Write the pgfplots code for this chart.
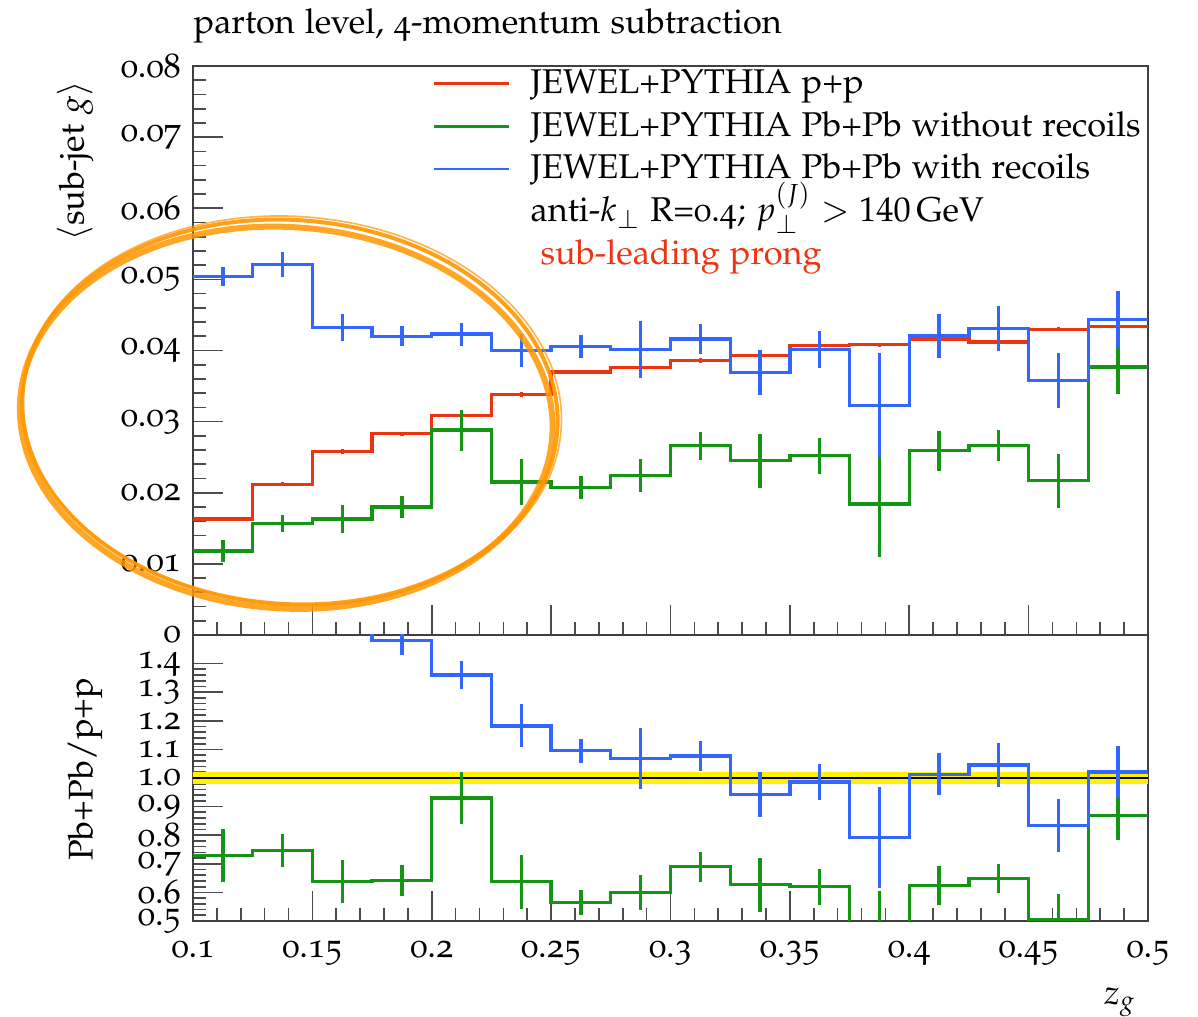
\documentclass[border=0pt]{standalone}
\usepackage[T1]{fontenc}
\usepackage[osf]{mathpazo}
\usepackage{pgfplots}
\usepackage{pgfplotstable}
\pgfplotsset{compat=1.18}
\definecolor{rred}{RGB}{238,51,17}
\definecolor{rgreen}{RGB}{20,150,20}
\definecolor{rblue}{RGB}{51,102,255}
\definecolor{orng}{RGB}{255,150,0}

\pgfplotstableread{
xlo y err
0.100 0.0163 0.0003
0.125 0.0212 0.0003
0.150 0.0258 0.0003
0.175 0.0283 0.0003
0.200 0.0309 0.0003
0.225 0.0338 0.0003
0.250 0.0370 0.0003
0.275 0.0376 0.0003
0.300 0.0386 0.0003
0.325 0.0393 0.0003
0.350 0.0407 0.0003
0.375 0.0408 0.0003
0.400 0.0416 0.0003
0.425 0.0412 0.0003
0.450 0.0430 0.0003
0.475 0.0434 0.0003
0.500 0.0434 0
}\redtop
\pgfplotstableread{
xlo y err
0.100 0.0118 0.0015
0.125 0.0157 0.0012
0.150 0.0163 0.0020
0.175 0.0180 0.0015
0.200 0.0288 0.0029
0.225 0.0215 0.0032
0.250 0.0207 0.0016
0.275 0.0224 0.0023
0.300 0.0266 0.0020
0.325 0.0245 0.0038
0.350 0.0252 0.0025
0.375 0.0184 0.0074
0.400 0.0259 0.0028
0.425 0.0266 0.0022
0.450 0.0217 0.0038
0.475 0.0377 0.0038
0.500 0.0377 0
}\greentop
\pgfplotstableread{
xlo y err
0.100 0.0504 0.0014
0.125 0.0521 0.0018
0.150 0.0432 0.0019
0.175 0.0420 0.0014
0.200 0.0423 0.0016
0.225 0.0400 0.0023
0.250 0.0406 0.0016
0.275 0.0401 0.0040
0.300 0.0416 0.0021
0.325 0.0369 0.0032
0.350 0.0401 0.0026
0.375 0.0323 0.0073
0.400 0.0421 0.0031
0.425 0.0431 0.0031
0.450 0.0358 0.0039
0.475 0.0444 0.0039
0.500 0.0444 0
}\bluetop
\pgfplotstableread{
xlo y err
0.100 3.090 0.090
0.125 2.460 0.090
0.150 1.670 0.080
0.175 1.480 0.050
0.200 1.360 0.048
0.225 1.182 0.075
0.250 1.095 0.041
0.275 1.069 0.107
0.300 1.077 0.053
0.325 0.942 0.080
0.350 0.986 0.062
0.375 0.791 0.177
0.400 1.013 0.073
0.425 1.046 0.076
0.450 0.834 0.092
0.475 1.021 0.090
0.500 1.021 0
}\blueratio
\pgfplotstableread{
xlo y err
0.100 0.730 0.093
0.125 0.746 0.058
0.150 0.637 0.075
0.175 0.641 0.055
0.200 0.930 0.090
0.225 0.637 0.095
0.250 0.565 0.043
0.275 0.600 0.061
0.300 0.690 0.052
0.325 0.627 0.094
0.350 0.620 0.063
0.375 0.450 0.155
0.400 0.624 0.069
0.425 0.649 0.052
0.450 0.505 0.089
0.475 0.870 0.086
0.500 0.870 0
}\greenratio

\pgfplotsset{
  rivet/.style={
    scale only axis, width=286.5pt,
    xmin=0.1, xmax=0.5,
    tick pos=left, tick align=inside,
    major tick length=9pt, minor tick length=4pt,
    axis line style={black!75, line width=0.5pt},
    every tick/.style={black!70, line width=0.5pt},
    xtick={0.1,0.15,0.2,0.25,0.3,0.35,0.4,0.45,0.5},
    minor x tick num=4, minor y tick num=4,
    scaled ticks=false,
    /pgf/number format/assume math mode=true,
  },
  stepline/.style={const plot mark left, line width=1pt},
  ebar/.style={forget plot, draw=none, mark=none,
    error bars/y dir=both, error bars/y explicit, error bars/error mark=none,
    error bars/error bar style={draw=#1, line width=1pt}},
}

\begin{document}
\fontsize{10.3pt}{12.8pt}\selectfont
\begin{tikzpicture}
\path[use as bounding box] (-57.9pt,-28.8pt) rectangle (301.5pt,276.3pt);

\begin{axis}[rivet,
  at={(0pt,85.8pt)}, anchor=south west, height=170.7pt,
  ymin=0, ymax=0.08,
  ytick={0,0.01,0.02,0.03,0.04,0.05,0.06,0.07,0.08},
  xticklabels={},
  yticklabel style={/pgf/number format/fixed, /pgf/number format/precision=2},
  ylabel={$\langle$sub-jet $g\rangle$},
  ylabel style={at={(axis description cs:-0.1236,0.995)}, anchor=east},
  title={parton level, 4-momentum subtraction},
  title style={at={(axis description cs:0,1)}, anchor=base west, yshift=3.9pt, inner xsep=0pt},
  legend cell align=left,
  legend style={draw=none, fill=none, at={(axis description cs:0.2506,1)}, anchor=north west,
    yshift=1.3pt, inner sep=0pt, row sep=0pt, column sep=6pt,
    nodes={inner ysep=0pt, inner xsep=0pt, text height=9.3pt, text depth=3.5pt}},
  legend image code/.code={\draw[#1, line width=0.8pt] (0pt,0pt) -- (22.5pt,0pt);},
]
\addplot[stepline, rred] table[x=xlo, y=y] {\redtop};
\addlegendentry{JEWEL+PYTHIA p+p}
\addplot[stepline, rgreen] table[x=xlo, y=y] {\greentop};
\addlegendentry{JEWEL+PYTHIA Pb+Pb without recoils}
\addplot[stepline, rblue] table[x=xlo, y=y] {\bluetop};
\addlegendentry{JEWEL+PYTHIA Pb+Pb with recoils}
\addlegendimage{empty legend}
\addlegendentry{anti-$k_\perp$ R=0.4; $p_\perp^{(J)} > 140\,\mathrm{GeV}$}
\addlegendimage{empty legend}
\addlegendentry{\hspace*{3pt}\textcolor{rred}{sub-leading prong}}
\addplot[ebar=rred] table[x expr=\thisrow{xlo}+0.0125, y=y, y error=err] {\redtop};
\addplot[ebar=rgreen] table[x expr=\thisrow{xlo}+0.0125, y=y, y error=err] {\greentop};
\addplot[ebar=rblue] table[x expr=\thisrow{xlo}+0.0125, y=y, y error=err] {\bluetop};
\end{axis}

\begin{axis}[rivet,
  at={(0pt,0pt)}, anchor=south west, height=85.8pt,
  ymin=0.5, ymax=1.5,
  ytick={0.5,0.6,0.7,0.8,0.9,1.0,1.1,1.2,1.3,1.4},
  yticklabel style={/pgf/number format/fixed, /pgf/number format/fixed zerofill, /pgf/number format/precision=1},
  xticklabel style={/pgf/number format/fixed, /pgf/number format/precision=2, yshift=-2.4pt},
  ylabel={Pb+Pb/p+p},
  ylabel style={at={(axis description cs:-0.113,0.53)}, anchor=center},
  xlabel={$z_g$},
  xlabel style={at={(axis description cs:1,-0.19)}, anchor=north east},
]
\addplot[fill=yellow, draw=none, forget plot] coordinates {(0.1,0.979) (0.5,0.979) (0.5,1.021) (0.1,1.021) (0.1,0.979)};
\addplot[black, line width=0.6pt, forget plot] coordinates {(0.1,1) (0.5,1)};
\addplot[stepline, rgreen] table[x=xlo, y=y] {\greenratio};
\addplot[stepline, rblue] table[x=xlo, y=y] {\blueratio};
\addplot[ebar=rgreen] table[x expr=\thisrow{xlo}+0.0125, y=y, y error=err] {\greenratio};
\addplot[ebar=rblue] table[x expr=\thisrow{xlo}+0.0125, y=y, y error=err] {\blueratio};
\end{axis}

\begin{scope}[shift={(29.1pt,152.7pt)}, rotate=-4]
\draw[orng, line width=1.2pt, opacity=0.9] (0,0) ellipse [x radius=80.4pt, y radius=57.6pt];
\draw[orng, line width=1.8pt, opacity=0.85] (-1pt,-1.8pt) ellipse [x radius=80pt, y radius=57.2pt];
\draw[orng, line width=0.5pt, opacity=0.7] (0.5pt,0.5pt) ellipse [x radius=81pt, y radius=58.2pt];
\end{scope}
\end{tikzpicture}
\end{document}
